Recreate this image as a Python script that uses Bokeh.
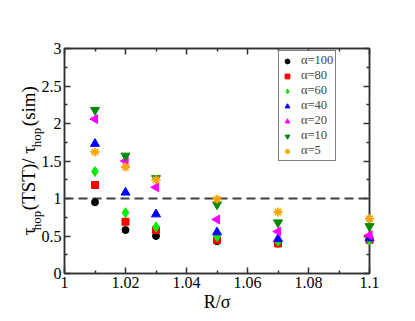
import math
from bokeh.plotting import figure
from bokeh.models import (Range1d, LinearAxis, FixedTicker, Span, Legend, LegendItem)
from bokeh.core.properties import value
from bokeh.embed import file_html
from bokeh.resources import INLINE

# ---------------- data ----------------
r_sigma = [1.01, 1.02, 1.03, 1.05, 1.07, 1.10]
alpha_100 = [0.95, 0.58, 0.50, 0.43, 0.40, 0.46]
alpha_80 = [1.18, 0.69, 0.58, 0.45, 0.40, 0.45]
alpha_60 = [1.36, 0.81, 0.62, 0.49, 0.43, 0.45]
alpha_40 = [1.73, 1.08, 0.79, 0.55, 0.46, 0.47]
alpha_20 = [2.06, 1.50, 1.15, 0.72, 0.56, 0.51]
alpha_10 = [2.18, 1.57, 1.27, 0.92, 0.68, 0.63]
alpha_5 = [1.62, 1.42, 1.25, 0.99, 0.82, 0.73]
series_labels = ["α=100", "α=80", "α=60", "α=40", "α=20", "α=10", "α=5"]
reference_ratio = 1.0

x_ticks = [1.0, 1.02, 1.04, 1.06, 1.08, 1.1]
x_tick_labels = ["1", "1.02", "1.04", "1.06", "1.08", "1.1"]
y_ticks = [0, 0.5, 1, 1.5, 2, 2.5, 3]
y_tick_labels = ["0", "0.5", "1", "1.5", "2", "2.5", "3"]

x_title = "R/σ"
y_title_main = ["τ", "(TST)/ τ", "(sim)"]
y_title_sub = ["hop", "hop"]

# ---------------- styling ----------------
FONT = "Liberation Serif"
AX = "#303030"

p = figure(width=405, height=313, output_backend="svg", toolbar_location=None,
           x_range=Range1d(1.0, 1.1), y_range=Range1d(0, 3),
           min_border_left=64, min_border_right=36, min_border_top=48, min_border_bottom=40,
           background_fill_color="white", border_fill_color="white")
p.xgrid.visible = False
p.ygrid.visible = False
p.outline_line_color = AX
p.outline_line_width = 1.5

def style_axis(ax, ticks, labels, minor, show_labels):
    ax.ticker = FixedTicker(ticks=ticks, minor_ticks=minor)
    ax.major_label_overrides = {t: l for t, l in zip(ticks, labels)}
    ax.major_tick_in = 6
    ax.major_tick_out = 0
    ax.minor_tick_in = 3
    ax.minor_tick_out = 0
    ax.axis_line_color = AX
    ax.axis_line_width = 1.5
    ax.major_tick_line_color = AX
    ax.major_tick_line_width = 1.5
    ax.minor_tick_line_color = AX
    ax.minor_tick_line_width = 1.5
    ax.major_label_text_font = FONT
    ax.major_label_text_color = "black"
    ax.major_label_standoff = 3
    if show_labels:
        ax.major_label_text_font_size = "16px"
    else:
        ax.major_label_text_font_size = "0px"
        ax.major_label_text_alpha = 0

x_minor = [1.01, 1.03, 1.05, 1.07, 1.09]
y_minor = [0.25, 0.75, 1.25, 1.75, 2.25, 2.75]

style_axis(p.xaxis[0], x_ticks, x_tick_labels, x_minor, True)
style_axis(p.yaxis[0], y_ticks, y_tick_labels, y_minor, True)
top_ax = LinearAxis()
right_ax = LinearAxis()
style_axis(top_ax, x_ticks, x_tick_labels, x_minor, False)
style_axis(right_ax, y_ticks, y_tick_labels, y_minor, False)
p.add_layout(top_ax, "above")
p.add_layout(right_ax, "right")

# dashed reference line
p.add_layout(Span(location=reference_ratio, dimension="width", line_color="#404040",
                  line_width=2, line_dash="9 5"))

# series
specs = [
    (alpha_100, "circle", "black", 7, 0.0),
    (alpha_80, "square", "#ff0000", 7, 0.0),
    (alpha_60, "diamond", "#00ee00", 10, 0.0),
    (alpha_40, "triangle", "#0000ff", 9, 0.0),
    (alpha_20, "triangle", "#ff00ff", 9, math.pi / 2),
    (alpha_10, "inverted_triangle", "#008b00", 9, 0.0),
    (alpha_5, "asterisk", "#ffa500", 9, 0.0),
]
items = []
for (vals, marker, color, size, ang), lab in zip(specs, series_labels):
    if marker == "asterisk":
        r = p.scatter(r_sigma, vals, marker=marker, size=size, line_color=color,
                      line_width=1.8, angle=ang, level="overlay")
    else:
        r = p.scatter(r_sigma, vals, marker=marker, size=size, fill_color=color,
                      line_color=color, line_width=1, angle=ang, level="overlay")
    items.append(LegendItem(label=lab, renderers=[r]))

legend = Legend(items=items, location=(214, 112), border_line_color="black",
                border_line_width=1, background_fill_color="white", background_fill_alpha=1,
                label_text_font=FONT, label_text_font_size="12.5px", label_standoff=8,
                glyph_width=12, glyph_height=12, label_height=12, spacing=0,
                padding=2, margin=0)
p.add_layout(legend, "center")

# axis titles drawn as text glyphs (not clipped to the frame)
p.text(x=[1.05], y=[-0.385], text=[x_title], text_font=value(FONT), text_font_size="18px",
       text_align="center", text_baseline="alphabetic", text_color="black", level="overlay")

main_x = 0.98820
sub_x = 0.99066
p.text(x=[main_x] * 3, y=[0.511, 0.844, 1.964], text=y_title_main, angle=math.pi / 2,
       text_font=value(FONT), text_font_size="19px", text_align="left",
       text_baseline="middle", text_color="black", level="overlay")
p.text(x=[sub_x] * 2, y=[0.577, 1.684], text=y_title_sub, angle=math.pi / 2,
       text_font=value(FONT), text_font_size="13px", text_align="left",
       text_baseline="middle", text_color="black", level="overlay")

open("out.html", "w").write(file_html(p, INLINE))
